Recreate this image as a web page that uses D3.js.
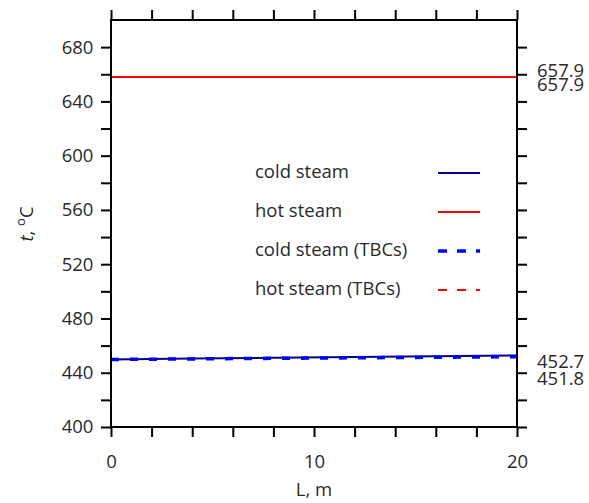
<!DOCTYPE html>
<html><head><meta charset="utf-8">
<script src="https://cdn.jsdelivr.net/npm/d3@7"></script>
<style>body{margin:0;background:#fff}text{font-family:"Open Sans","Noto Sans",sans-serif;fill:#2a2a2a;font-weight:400}</style>
</head><body><svg id="c" width="589" height="503"></svg>
<script>
const lengths = [0, 4, 8, 12, 16, 20];
const coldSteam = [449.8, 450.4, 451.0, 451.6, 452.1, 452.7];
const hotSteam = [657.9, 657.9, 657.9, 657.9, 657.9, 657.9];
const coldSteamTBC = [449.8, 450.2, 450.6, 451.0, 451.4, 451.8];
const hotSteamTBC = [657.9, 657.9, 657.9, 657.9, 657.9, 657.9];
const yTicks = [400, 440, 480, 520, 560, 600, 640, 680];
const xTicks = [0, 10, 20];
const endLabels = ["657.9", "657.9", "452.7", "451.8"];
const legendNames = ["cold steam", "hot steam", "cold steam (TBCs)", "hot steam (TBCs)"];

const FS = 18.5;
const svg = d3.select("#c");
const m = {l:111, r:517, t:20, b:427};
const x = d3.scaleLinear().domain([0,20]).range([m.l, m.r]);
const y = d3.scaleLinear().domain([400,700]).range([m.b, m.t]);

const series = [
  {name:legendNames[0], vals:coldSteam, color:"#00008b", w:2, dash:null},
  {name:legendNames[1], vals:hotSteam, color:"#ff0000", w:2, dash:null},
  {name:legendNames[2], vals:coldSteamTBC, color:"#0000ff", w:3.5, dash:"8,11"},
  {name:legendNames[3], vals:hotSteamTBC, color:"#ff0000", w:2, dash:"8,11"}
];
const line = d3.line().x(d=>x(d[0])).y(d=>y(d[1]));
series.forEach(s=>{
  svg.append("path").datum(lengths.map((L,i)=>[L,s.vals[i]]))
    .attr("d", line).attr("fill","none").attr("stroke",s.color)
    .attr("stroke-width",s.w).attr("stroke-dasharray",s.dash);
});

const minorX = d3.range(0,21,2);
const minorY = d3.range(400,701,20);
const axStyle = g=>{g.selectAll("path,line").attr("stroke","#000").attr("stroke-width",2);g.select(".domain").remove();};
const txtStyle = g=>g.selectAll("text").attr("font-size",FS).attr("fill","#2a2a2a").attr("font-family","'Open Sans',sans-serif");
svg.append("g").attr("transform",`translate(0,${m.b})`)
  .call(d3.axisBottom(x).tickValues(minorX).tickSize(10).tickFormat(d=>xTicks.includes(d)?d:""))
  .call(axStyle).call(txtStyle).call(g=>g.selectAll("text").attr("dy","1.5em"));
svg.append("g").attr("transform",`translate(0,${m.t})`)
  .call(d3.axisTop(x).tickValues(minorX).tickSize(10).tickFormat("")).call(axStyle);
svg.append("g").attr("transform",`translate(${m.l},0)`)
  .call(d3.axisLeft(y).tickValues(minorY.filter(v=>v<700)).tickSize(10).tickFormat(d=>yTicks.includes(d)?d:""))
  .call(axStyle).call(txtStyle).call(g=>g.selectAll("text").attr("dx","-0.25em"));
svg.append("g").attr("transform",`translate(${m.r},0)`)
  .call(d3.axisRight(y).tickValues(minorY.filter(v=>v<700)).tickSize(10).tickFormat("")).call(axStyle);
svg.append("rect").attr("x",m.l).attr("y",m.t).attr("width",m.r-m.l).attr("height",m.b-m.t)
  .attr("fill","none").attr("stroke","#000").attr("stroke-width",2);

// end labels
const endY = [hotSteam[hotSteam.length-1], hotSteamTBC[hotSteamTBC.length-1], coldSteam[coldSteam.length-1], coldSteamTBC[coldSteamTBC.length-1]];
const endPos = [y(endY[0])-7, y(endY[1])+7, y(endY[2])+6, y(endY[3])+22];
endLabels.forEach((t,i)=>{
  svg.append("text").attr("x",m.r+20).attr("y",endPos[i]).attr("dy","0.35em")
    .attr("font-size",FS).text(t);
});

// axis titles
svg.append("text").attr("x",x(10)).attr("y",496).attr("text-anchor","middle").attr("font-size",FS).text("L, m");
const yt = svg.append("text").attr("transform","translate(33,224) rotate(-90)").attr("text-anchor","middle").attr("font-size",FS);
yt.append("tspan").attr("font-style","italic").text("t");
yt.append("tspan").text(", ");
yt.append("tspan").attr("font-size",13).attr("dy",-8).text("o");
yt.append("tspan").attr("dy",8).text("C");

// legend
series.forEach((s,i)=>{
  const ly = 172 + i*39;
  svg.append("text").attr("x",255).attr("y",ly).attr("dy","0.35em").attr("font-size",FS).text(s.name);
  svg.append("line").attr("x1",438).attr("x2",480).attr("y1",ly+1).attr("y2",ly+1)
    .attr("stroke",s.color).attr("stroke-width",s.w).attr("stroke-dasharray",s.dash?"9,10":null);
});
</script></body></html>
